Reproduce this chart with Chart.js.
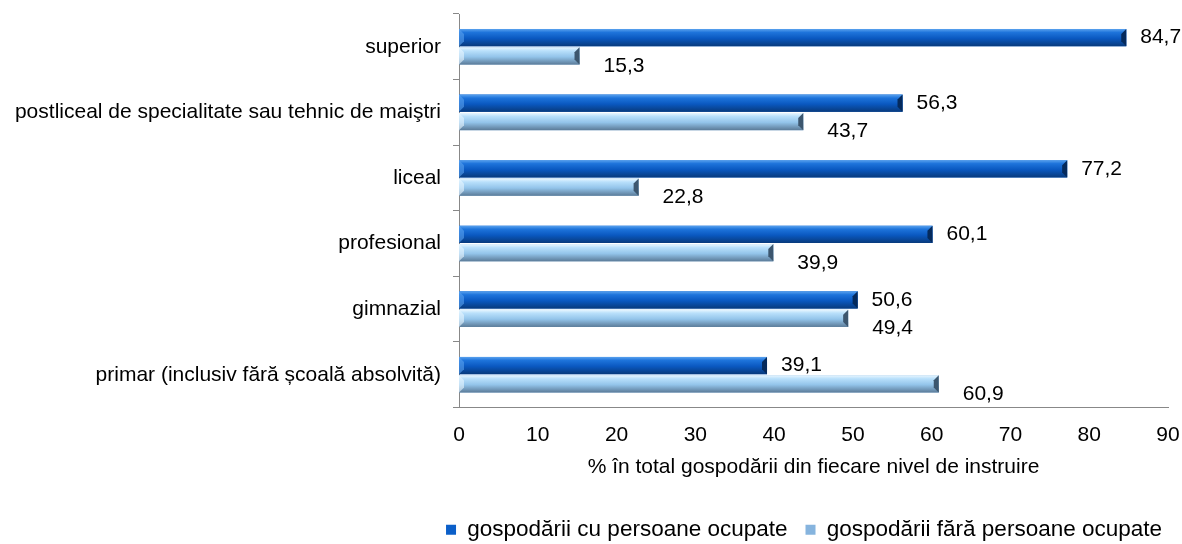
<!DOCTYPE html>
<html>
<head>
<meta charset="utf-8">
<script src="https://cdn.jsdelivr.net/npm/chart.js@4/dist/chart.umd.min.js"></script>
<style>
  html, body { margin: 0; padding: 0; background: #fff; }
  #wrap { width: 1182px; height: 544px; }
</style>
</head>
<body>
<div id="wrap"><canvas id="myChart"></canvas></div>
<script>
var categories = [
    'superior',
    'postliceal de specialitate sau tehnic de maiştri',
    'liceal',
    'profesional',
    'gimnazial',
    'primar (inclusiv fără școală absolvită)'
];
var withEmployed = [84.7, 56.3, 77.2, 60.1, 50.6, 39.1];
var withoutEmployed = [15.3, 43.7, 22.8, 39.9, 49.4, 60.9];
var xTicks = [0, 10, 20, 30, 40, 50, 60, 70, 80, 90];

var FONT = '"Liberation Sans", Arial, sans-serif';

// shading for the bevelled bars
var shades = [
    { top: '#5aa2ee', hi: '#1e74db', mid: '#0a58c0', bottom: '#083a7c', end: '#052a5c' },
    { top: '#eaf7ff', hi: '#b9e0fb', mid: '#93c4ea', bottom: '#5b7b98', end: '#3c566e' }
];

var bevelPlugin = {
    id: 'bevel',
    afterDatasetsDraw: function(chart) {
        var ctx = chart.ctx;
        chart.data.datasets.forEach(function(ds, i) {
            var s = shades[i];
            chart.getDatasetMeta(i).data.forEach(function(bar) {
                var top = bar.y - bar.height / 2;
                var h = bar.height;
                var left = bar.base;
                var right = bar.x;
                var g = ctx.createLinearGradient(0, top, 0, top + h);
                g.addColorStop(0, s.top);
                g.addColorStop(0.2, s.hi);
                g.addColorStop(0.55, s.mid);
                g.addColorStop(1, s.bottom);
                ctx.save();
                ctx.fillStyle = g;
                ctx.fillRect(left, top, right - left, h);
                var b = Math.min(5, h / 3);
                // right end bevel
                ctx.fillStyle = s.end;
                ctx.beginPath();
                ctx.moveTo(right, top);
                ctx.lineTo(right, top + h);
                ctx.lineTo(right - b, top + h - b);
                ctx.lineTo(right - b, top + b);
                ctx.closePath();
                ctx.fill();
                // left end bevel
                ctx.fillStyle = s.top;
                ctx.globalAlpha = 0.6;
                ctx.beginPath();
                ctx.moveTo(left, top);
                ctx.lineTo(left + b, top + b);
                ctx.lineTo(left + b, top + h - b);
                ctx.lineTo(left, top + h);
                ctx.closePath();
                ctx.fill();
                ctx.restore();
            });
        });
    }
};

var valueLabels = {
    id: 'valueLabels',
    afterDatasetsDraw: function(chart) {
        var ctx = chart.ctx;
        ctx.save();
        ctx.font = '21px ' + FONT;
        ctx.fillStyle = '#000';
        ctx.textAlign = 'left';
        ctx.textBaseline = 'middle';
        chart.data.datasets.forEach(function(ds, i) {
            chart.getDatasetMeta(i).data.forEach(function(bar, j) {
                var txt = ds.data[j].toFixed(1).replace('.', ',');
                if (i === 0) {
                    ctx.fillText(txt, bar.x + 14, bar.y);
                } else {
                    ctx.fillText(txt, bar.x + 24, bar.y + 10);
                }
            });
        });
        ctx.restore();
    }
};

var ctx = document.getElementById('myChart').getContext('2d');
var chart = new Chart(ctx, {
    type: 'bar',
    data: {
        labels: categories,
        datasets: [{
            label: 'gospodării cu persoane ocupate',
            backgroundColor: '#0b5fc9',
            data: withEmployed
        }, {
            label: 'gospodării fără persoane ocupate',
            backgroundColor: '#86b4de',
            data: withoutEmployed
        }]
    },
    options: {
        indexAxis: 'y',
        responsive: true,
        maintainAspectRatio: false,
        animation: false,
        categoryPercentage: 0.56,
        barPercentage: 0.94,
        layout: { padding: { top: 14, right: 2, left: 0, bottom: -7 } },
        plugins: {
            tooltip: { enabled: false },
            legend: {
                position: 'bottom',
                align: 'end',
                labels: {
                    font: { family: FONT, size: 22.5 },
                    color: '#000',
                    boxWidth: 10,
                    boxHeight: 10,
                    padding: 18
                }
            }
        },
        scales: {
            x: {
                min: 0,
                max: 90,
                afterBuildTicks: function(scale) {
                    scale.ticks = xTicks.map(function(v) { return { value: v }; });
                },
                afterFit: function(scale) {
                    scale.height = 93;
                    scale.paddingRight = 14;
                },
                grid: { display: false, drawTicks: true, tickLength: 6, color: '#888' },
                border: { display: true, color: '#888' },
                ticks: { font: { family: FONT, size: 21 }, color: '#000', padding: 9 },
                title: {
                    display: true,
                    text: '% în total gospodării din fiecare nivel de instruire',
                    font: { family: FONT, size: 21 },
                    color: '#000',
                    padding: { top: 4, bottom: 21 }
                }
            },
            y: {
                afterFit: function(scale) {
                    scale.width = 459;
                    scale.paddingTop = 0;
                    scale.paddingBottom = 0;
                },
                grid: { display: true, drawOnChartArea: false, offset: true, tickLength: 6, color: '#888' },
                border: { display: true, color: '#888' },
                ticks: { font: { family: FONT, size: 21 }, color: '#000', padding: 12 }
            }
        }
    },
    plugins: [bevelPlugin, valueLabels]
});
</script>
</body>
</html>
